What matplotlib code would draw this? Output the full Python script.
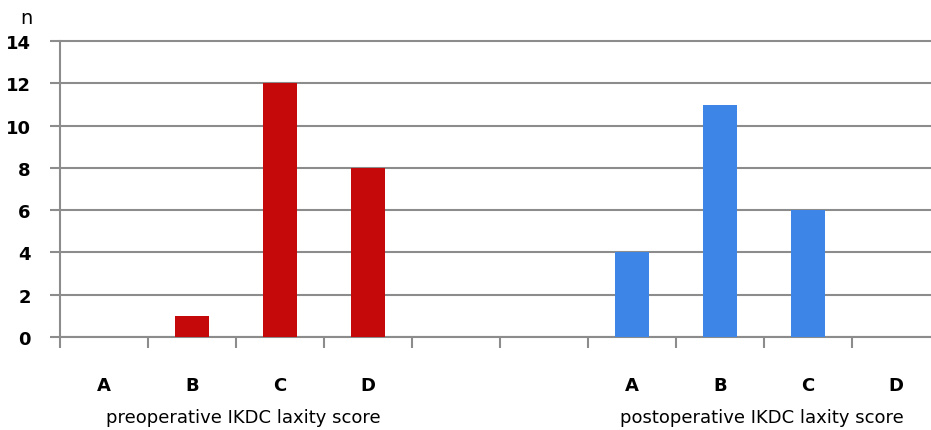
import numpy as np
import matplotlib
matplotlib.use('Agg')
import matplotlib.pyplot as plt

grades = ['A', 'B', 'C', 'D']
preop = [0, 1, 12, 8]
postop = [4, 11, 6, 0]
yticks = [0, 2, 4, 6, 8, 10, 12, 14]

red = '#C5090B'
blue = '#3D86E8'
grey = '#8C8C8C'

fig = plt.figure(figsize=(9.31, 4.31), dpi=100)
ax = fig.add_axes([60 / 931, 1 - 338 / 431, 1 - 60 / 931, (338 - 40) / 431])

# slots 0-3 preop, 4-5 empty gap, 6-9 postop
pre_x = np.arange(4)
post_x = np.arange(4) + 6
ax.bar(pre_x, preop, width=0.39, color=red, zorder=3)
ax.bar(post_x, postop, width=0.39, color=blue, zorder=3)

ax.set_xlim(-0.5, 9.4)
ax.set_ylim(0, 14.1)
ax.set_yticks(yticks)
ax.set_yticklabels([str(v) for v in yticks], fontsize=13, fontweight='bold')
ax.yaxis.grid(True, color=grey, linewidth=1.5, zorder=0)
ax.tick_params(axis='y', length=7, width=1.5, color=grey, pad=14)

ax.set_xticks(list(pre_x) + list(post_x))
ax.set_xticklabels(grades + grades, fontsize=13, fontweight='bold')
ax.set_xticks(np.arange(-0.5, 9.5, 1.0), minor=True)
ax.tick_params(axis='x', which='major', length=0, pad=28)
ax.tick_params(axis='x', which='minor', length=8, width=1.5, color=grey)

for s in ['top', 'right']:
    ax.spines[s].set_visible(False)
for s in ['left', 'bottom']:
    ax.spines[s].set_color(grey)
    ax.spines[s].set_linewidth(1.5)
ax.spines['left'].set_bounds(0, 14)

fig.text(20 / 931, 1 - 18 / 431, 'n', fontsize=14, ha='left', va='center')
fig.text(243 / 931, 1 - 418 / 431, 'preoperative IKDC laxity score',
         fontsize=13, ha='center', va='center')
fig.text(762 / 931, 1 - 418 / 431, 'postoperative IKDC laxity score',
         fontsize=13, ha='center', va='center')

fig.savefig('out.png', dpi=100)
